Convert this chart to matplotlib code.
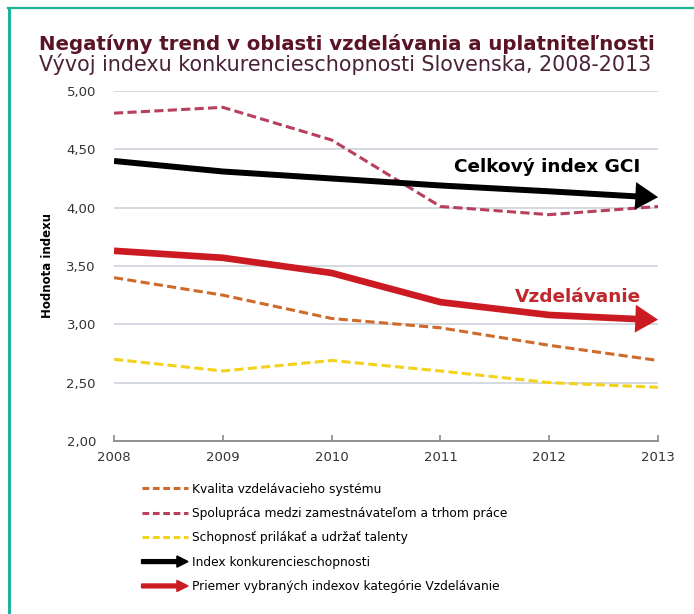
import matplotlib
matplotlib.use('Agg')
import matplotlib.pyplot as plt
import matplotlib.patches as mpatches
from matplotlib.lines import Line2D
from matplotlib.legend_handler import HandlerPatch
from matplotlib.ticker import FuncFormatter

plt.rcParams['font.family'] = ['DejaVu Sans']

years = [2008, 2009, 2010, 2011, 2012, 2013]
kvalita = [3.40, 3.25, 3.05, 2.97, 2.82, 2.69]
spolupraca = [4.81, 4.86, 4.58, 4.01, 3.94, 4.01]
talenty = [2.70, 2.60, 2.69, 2.60, 2.50, 2.46]
gci = [4.40, 4.31, 4.25, 4.19, 4.14, 4.09]
vzdelavanie = [3.63, 3.57, 3.44, 3.19, 3.08, 3.04]

labels = ['Kvalita vzdelávacieho systému',
          'Spolupráca medzi zamestnávateľom a trhom práce',
          'Schopnosť prilákať a udržať talenty',
          'Index konkurencieschopnosti',
          'Priemer vybraných indexov kategórie Vzdelávanie']

c_orange = '#cf6a2a'
c_crimson = '#b8405e'
c_yellow = '#f2d21a'
c_black = '#000000'
c_red = '#cc1a22'

fig = plt.figure(figsize=(6.94, 6.14), dpi=100)
ax = fig.add_axes([0.1643, 0.2818, 0.7839, 0.5700])

# teal frame (left + top only)
fig.add_artist(Line2D([0.013, 0.013], [0.0, 0.987], color='#1fb39a', lw=2.2))
fig.add_artist(Line2D([0.012, 1.0], [0.987, 0.987], color='#1fb39a', lw=1.6))

dash = (3.0, 1.4)
ax.plot(years, spolupraca, color=c_crimson, lw=2.2, dashes=dash, zorder=3)
ax.plot(years, kvalita, color=c_orange, lw=2.2, dashes=dash, zorder=3)
ax.plot(years, talenty, color=c_yellow, lw=2.2, dashes=dash, zorder=3)

for vals, col, lw in [(gci, c_black, 4.3), (vzdelavanie, c_red, 4.8)]:
    ax.plot(years[:-1] + [years[-1] - 0.08], vals[:-1] + [vals[-1]],
            color=col, lw=lw, solid_capstyle='butt', zorder=4)
    ax.annotate('', xy=(years[-1], vals[-1]), xytext=(years[-2], vals[-2]),
                arrowprops=dict(arrowstyle='-|>,head_length=0.9,head_width=0.55',
                                color=col, lw=0.1, shrinkA=0, shrinkB=0,
                                mutation_scale=18),
                annotation_clip=False, zorder=5)

ax.text(2012.84, 4.35, 'Celkový index GCI', fontsize=13.3, fontweight='bold',
        color='black', ha='right', va='center')
ax.text(2012.84, 3.23, 'Vzdelávanie', fontsize=13.3, fontweight='bold',
        color='#c0282e', ha='right', va='center')

ax.set_xlim(2008, 2013)
ax.set_ylim(2.0, 5.0)
ax.set_yticks([2.0, 2.5, 3.0, 3.5, 4.0, 4.5, 5.0])
ax.set_xticks(years)
ax.yaxis.set_major_formatter(FuncFormatter(lambda v, p: f'{v:.2f}'.replace('.', ',')))
ax.grid(axis='y', color='#ccd3da', lw=1.2)
ax.set_axisbelow(True)
for s in ['left', 'right', 'top']:
    ax.spines[s].set_visible(False)
ax.spines['bottom'].set_color('#8a8a8a')
ax.spines['bottom'].set_linewidth(1.3)
ax.tick_params(axis='y', length=0, pad=13, labelsize=9.5, colors='#333333')
ax.tick_params(axis='x', direction='in', length=4, color='#8a8a8a', width=1.2,
               pad=7, labelsize=9.5, labelcolor='#333333')
ax.set_ylabel('Hodnota indexu', fontsize=8.5, fontweight='bold', labelpad=9)

fig.text(0.056, 0.929, 'Negatívny trend v oblasti vzdelávania a uplatniteľnosti',
         fontsize=14.2, fontweight='bold', color='#5a1428', ha='left', va='center')
fig.text(0.056, 0.895, 'Vývoj indexu konkurencieschopnosti Slovenska, 2008-2013',
         fontsize=14.9, color='#4a2236', ha='left', va='center')


def make_arrow(legend, orig_handle, xdescent, ydescent, width, height, fontsize):
    return mpatches.FancyArrow(0, height / 2, width, 0, width=height * 0.45,
                               head_width=height * 1.3, head_length=height * 1.3,
                               length_includes_head=True)


handles = [Line2D([], [], color=c_orange, lw=2.2, dashes=(2.2, 1.2)),
           Line2D([], [], color=c_crimson, lw=2.2, dashes=(2.2, 1.2)),
           Line2D([], [], color=c_yellow, lw=2.2, dashes=(2.2, 1.2)),
           mpatches.Patch(color=c_black),
           mpatches.Patch(color=c_red)]
fig.legend(handles, labels, loc='upper left', bbox_to_anchor=(0.204, 0.214),
           frameon=False, fontsize=8.8, handlelength=3.8, handletextpad=0.3,
           labelspacing=0.93, borderpad=0, borderaxespad=0,
           handler_map={mpatches.Patch: HandlerPatch(patch_func=make_arrow)})

fig.savefig('out.png', dpi=100)
